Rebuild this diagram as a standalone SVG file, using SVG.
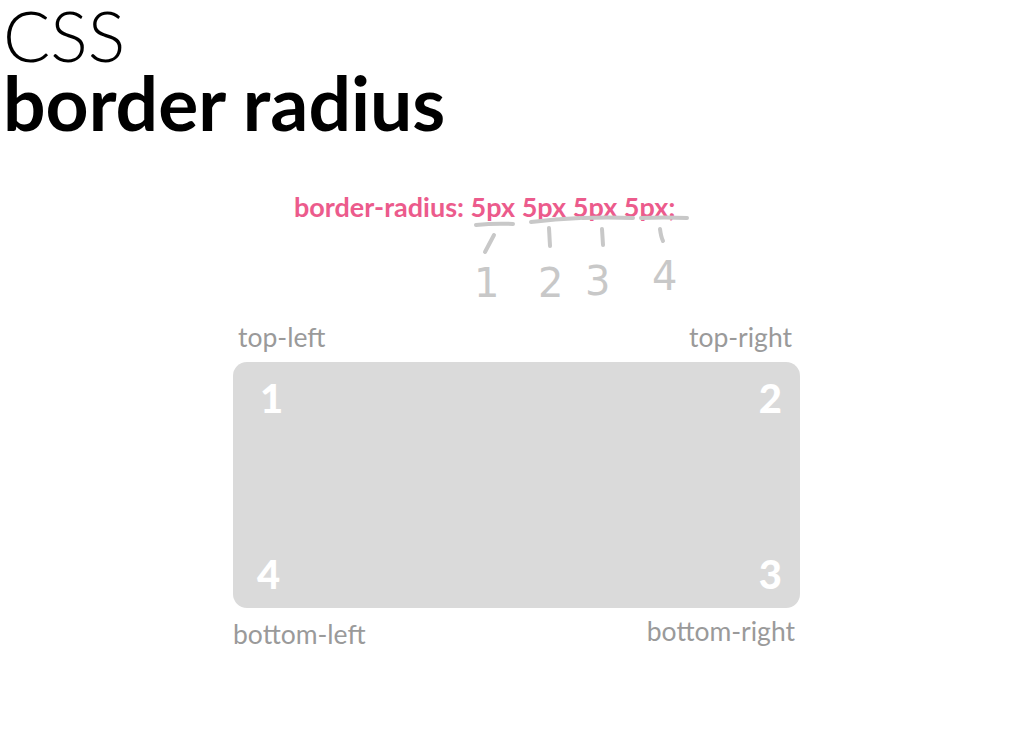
<svg xmlns="http://www.w3.org/2000/svg" width="1024" height="756" viewBox="0 0 1024 756">
<style>
.title{font-family:Lato,"Liberation Sans",sans-serif;fill:#000}
.lbl{font-family:Lato,"Liberation Sans",sans-serif;font-size:26.5px;fill:#9a9a9a}
.num{font-family:Lato,"Liberation Sans",sans-serif;font-size:40px;font-weight:900;fill:#fff}
.hand{font-family:"DejaVu Sans","Liberation Sans",sans-serif;font-size:40px;fill:#c8c8c8}
.mark{fill:none;stroke:#c8c8c8;stroke-width:4;stroke-linecap:round}
</style>
<rect width="1024" height="756" fill="#fff"/>
<g id="title">
<text class="title" x="3" y="62" font-size="70" font-weight="300">CSS</text>
<text class="title" x="3" y="131" font-size="75" font-weight="700">border radius</text>
</g>
<g id="code">
<text x="294" y="217" font-family="Lato,'Liberation Sans',sans-serif" font-size="27" font-weight="700" fill="#ec5b8c">border-radius: 5px 5px 5px 5px;</text>
</g>
<g id="connectors">
<path class="mark" d="M476 225 Q495 223 513 224"/>
<path class="mark" d="M494 235 L485 252"/>
<path class="mark" d="M531 222 Q555 219 580 218"/>
<path class="mark" d="M549 228 L550 246"/>
<path class="mark" d="M582 218 Q608 217 633 218"/>
<path class="mark" d="M602 229 L603 245"/>
<path class="mark" d="M641 218 Q665 217 687 218"/>
<path class="mark" d="M660 229 Q661 237 663 241"/>
</g>
<g id="hand-numbers">
<text class="hand" x="474" y="297">1</text>
<text class="hand" x="538" y="297">2</text>
<text class="hand" x="585" y="295">3</text>
<text class="hand" x="652" y="290">4</text>
</g>
<g id="box">
<rect x="233" y="362" width="567" height="246" rx="14" fill="#dadada"/>
<text class="num" x="260" y="413">1</text>
<text class="num" x="782" y="413" text-anchor="end">2</text>
<text class="num" x="782" y="589" text-anchor="end">3</text>
<text class="num" x="257" y="589">4</text>
</g>
<g id="labels">
<text class="lbl" x="238" y="347">top-left</text>
<text class="lbl" x="792" y="347" text-anchor="end">top-right</text>
<text class="lbl" x="233" y="644">bottom-left</text>
<text class="lbl" x="795" y="641" text-anchor="end">bottom-right</text>
</g>
</svg>
